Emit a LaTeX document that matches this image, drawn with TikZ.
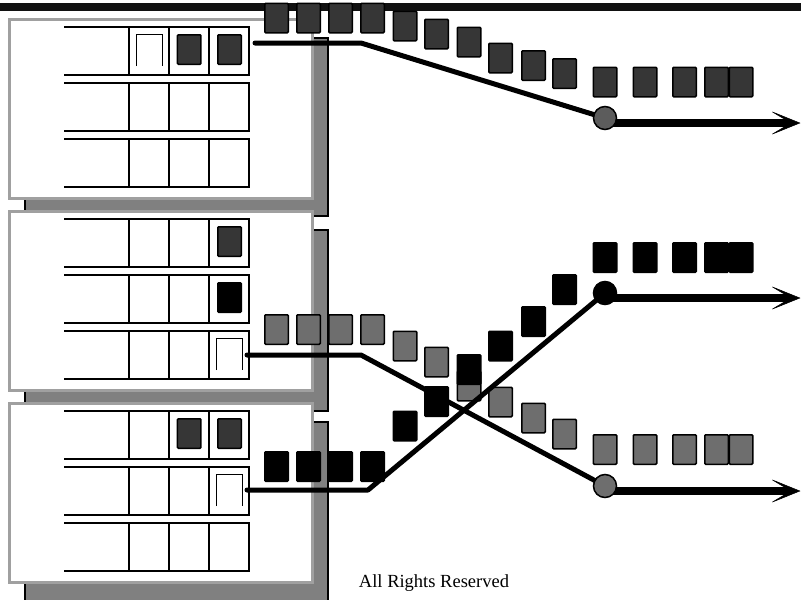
\documentclass[tikz,border=0pt]{standalone}
\usepackage{fontspec}
\setmainfont{Liberation Serif}
\usetikzlibrary{arrows.meta}
\definecolor{pdark}{HTML}{363636}
\definecolor{pgray}{HTML}{6E6E6E}
\definecolor{shadowgray}{HTML}{808080}
\definecolor{panelborder}{HTML}{A0A0A0}
\definecolor{cdark}{HTML}{5C5C5C}
\definecolor{barblack}{HTML}{111111}
\begin{document}
\begin{tikzpicture}[x=1pt,y=-1pt,
  pkt/.style={draw=black,line width=1.5pt,rounded corners=1pt,minimum width=23.5pt,minimum height=29.5pt,inner sep=0pt,outer sep=0pt},
  pdk/.style={pkt,fill=pdark},
  pgr/.style={pkt,fill=pgray},
  pbk/.style={pkt,fill=black},
  shadowbox/.style={draw=black,line width=2pt,fill=shadowgray},
  panelbox/.style={draw=panelborder,line width=2.7pt,fill=white},
  gridline/.style={draw=black,line width=2pt},
  slotline/.style={draw=black,line width=1pt},
  route/.style={draw=black,line width=5pt,line cap=round,line join=round},
  outarrow/.style={draw=black,line width=8pt,-{Stealth[length=31pt,width=25pt,inset=21pt,line width=0.5pt]}},
  hub/.style={circle,draw=black,line width=1.5pt,minimum size=23pt,inner sep=0pt},
  ]
\useasboundingbox (0,0) rectangle (801,600);
% panels with shadows and grids
\foreach \k in {0,1,2}{
  \draw[shadowbox] (25,37.5+192*\k) rectangle (327.5,216+192*\k+3*\k);
  \draw[panelbox] (9.5,19.5+192*\k) rectangle (312.8,198.7+192*\k);
  \foreach \r in {0,1,2}{
    \pgfmathsetmacro\rtop{27+192*\k+56*\r}
    \pgfmathsetmacro\rbot{\rtop+48}
    \draw[gridline] (64,\rtop) -- (249.3,\rtop) -- (249.3,\rbot) -- (64,\rbot);
    \foreach \xx in {128.7,169,209.3} \draw[gridline] (\xx,\rtop) -- (\xx,\rbot);
  }
}
% top bar
\draw[barblack,line width=7.5pt] (0,6.75) -- (801,6.75);
% packets inside cells
\node[pdk] (a13) at (189.2,49.5) {};
\node[pdk] (a14) at (229.5,49.5) {};
\draw[slotline] (136,66) -- (136,34) -- (162,34) -- (162,66);
\node[pdk] (b14) at (229.5,241.5) {};
\node[pbk] (b24) at (229.5,297.5) {};
\draw[slotline] (216.5,370) -- (216.5,338) -- (242.5,338) -- (242.5,370);
\node[pdk] (c13) at (189.2,433.5) {};
\node[pdk] (c14) at (229.5,433.5) {};
\draw[slotline] (216.5,506) -- (216.5,474) -- (242.5,474) -- (242.5,506);
% packet streams
\foreach \x/\y [count=\i] in {276.5/18,308.5/18,340.5/18,372.5/18,405/26,436.5/34,469/42,500.5/58,533.5/65.5,564.5/73.5,605/82,645/82,684.5/82,716.5/82,741/82}
  \node[pdk] (t\i) at (\x,\y) {};
\foreach \x/\y [count=\i] in {276.5/329.5,308.5/329.5,340.5/329.5,372.5/329.5,405/346,436.5/362,469/386,500.5/402,533.5/418,564.5/434,605/449.5,645/449.5,684.5/449.5,716.5/449.5,741/449.5}
  \node[pgr] (g\i) at (\x,\y) {};
\foreach \x/\y [count=\i] in {276.5/466.5,308.5/466.5,340.5/466.5,372.5/466.5,405/426,436.5/401.5,469/369.5,500.5/346,533.5/321.5,564.5/289.5,605/257.5,645/257.5,684.5/257.5,716.5/257.5,741/257.5}
  \node[pbk] (k\i) at (\x,\y) {};
% routes
\coordinate (s1) at (255,43);  \coordinate (m1) at (361,43);  \coordinate (h1c) at (605,118);
\coordinate (s2) at (247,355); \coordinate (m2) at (361,355); \coordinate (h2c) at (605,293);
\coordinate (s3) at (247,490); \coordinate (m3) at (368,490); \coordinate (h3c) at (605,486);
\coordinate (e1) at (800.5,123);
\coordinate (e2) at (800.5,298);
\coordinate (e3) at (800.5,491);
\draw[route] (s1) -- (m1) -- (h1c);
\draw[route] (s2) -- (m2) -- (h3c);
\draw[route] (s3) -- (m3) -- (h2c);
\draw[outarrow] ([yshift=-5pt]h1c) -- (e1);
\draw[outarrow] ([yshift=-5pt]h2c) -- (e2);
\draw[outarrow] ([yshift=-5pt]h3c) -- (e3);
\node[hub,fill=cdark] (h1) at (h1c) {};
\node[hub,fill=black] (h2) at (h2c) {};
\node[hub,fill=pgray] (h3) at (h3c) {};
% notice
\node[font=\fontsize{18.5}{20}\selectfont,anchor=base,inner sep=0pt] (notice) at (434,587) {All Rights Reserved};
\end{tikzpicture}
\end{document}
